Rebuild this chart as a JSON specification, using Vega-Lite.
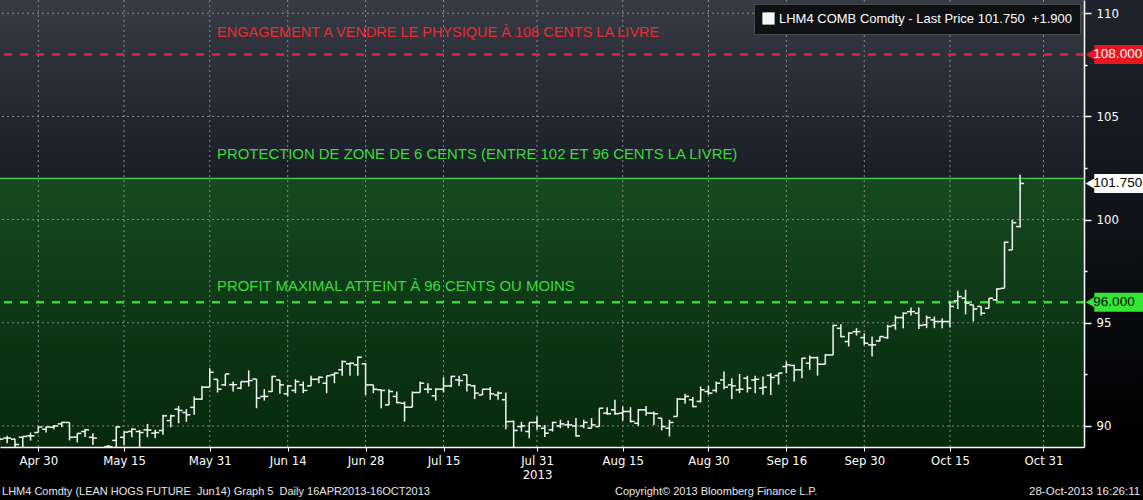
{
  "$schema": "https://vega.github.io/schema/vega-lite/v6.json",
  "width": 1084,
  "height": 447,
  "autosize": {"type": "none"},
  "padding": {"left": 0, "top": 0, "right": 59, "bottom": 53},
  "background": "#000000",
  "view": {"stroke": null, "fill": "#000000"},
  "config": {"font": "Liberation Sans"},
  "datasets": {
    "bars": [
      {"n": -5, "date": "2013-04-23", "o": 89.3, "h": 89.5, "l": 89.1, "c": 89.36},
      {"n": -4, "date": "2013-04-24", "o": 89.41, "h": 89.52, "l": 89.16, "c": 89.41},
      {"n": -3, "date": "2013-04-25", "o": 89.36, "h": 89.38, "l": 88.92, "c": 89.1},
      {"n": -2, "date": "2013-04-26", "o": 89.45, "h": 89.49, "l": 88.92, "c": 89.49},
      {"n": -1, "date": "2013-04-29", "o": 89.52, "h": 89.68, "l": 89.29, "c": 89.52},
      {"n": 0, "date": "2013-04-30", "o": 89.68, "h": 89.97, "l": 89.68, "c": 89.95},
      {"n": 1, "date": "2013-05-01", "o": 89.84, "h": 89.97, "l": 89.68, "c": 89.95},
      {"n": 2, "date": "2013-05-02", "o": 89.94, "h": 90.05, "l": 89.84, "c": 90.0},
      {"n": 3, "date": "2013-05-03", "o": 90.1, "h": 90.2, "l": 89.94, "c": 90.17},
      {"n": 4, "date": "2013-05-06", "o": 90.17, "h": 90.17, "l": 89.3, "c": 89.45},
      {"n": 5, "date": "2013-05-07", "o": 89.46, "h": 89.65, "l": 89.2, "c": 89.64},
      {"n": 6, "date": "2013-05-08", "o": 89.73, "h": 89.86, "l": 89.46, "c": 89.81},
      {"n": 7, "date": "2013-05-09", "o": 89.45, "h": 89.65, "l": 89.08, "c": 89.41},
      {"n": 8, "date": "2013-05-10", "o": 88.9, "h": 88.95, "l": 88.6, "c": 88.8},
      {"n": 9, "date": "2013-05-13", "o": 89.0, "h": 89.08, "l": 88.9, "c": 89.0},
      {"n": 10, "date": "2013-05-14", "o": 89.3, "h": 90.0, "l": 88.95, "c": 89.95},
      {"n": 11, "date": "2013-05-15", "o": 89.45, "h": 89.73, "l": 89.08, "c": 89.7},
      {"n": 12, "date": "2013-05-16", "o": 89.73, "h": 89.89, "l": 89.45, "c": 89.84},
      {"n": 13, "date": "2013-05-17", "o": 89.73, "h": 89.81, "l": 88.9, "c": 89.68},
      {"n": 14, "date": "2013-05-20", "o": 89.81, "h": 90.1, "l": 89.45, "c": 89.8},
      {"n": 15, "date": "2013-05-21", "o": 89.65, "h": 89.81, "l": 89.41, "c": 89.68},
      {"n": 16, "date": "2013-05-22", "o": 89.78, "h": 90.54, "l": 89.57, "c": 90.49},
      {"n": 17, "date": "2013-05-23", "o": 90.26, "h": 90.54, "l": 89.94, "c": 90.49},
      {"n": 18, "date": "2013-05-24", "o": 90.81, "h": 90.97, "l": 90.13, "c": 90.75},
      {"n": 19, "date": "2013-05-28", "o": 90.65, "h": 90.81, "l": 90.2, "c": 90.54},
      {"n": 20, "date": "2013-05-29", "o": 90.9, "h": 91.43, "l": 90.54, "c": 91.3},
      {"n": 21, "date": "2013-05-30", "o": 91.3, "h": 91.94, "l": 91.27, "c": 91.88},
      {"n": 22, "date": "2013-05-31", "o": 91.88, "h": 92.8, "l": 91.88, "c": 92.6},
      {"n": 23, "date": "2013-06-03", "o": 92.26, "h": 92.26, "l": 91.62, "c": 91.78},
      {"n": 24, "date": "2013-06-04", "o": 91.99, "h": 92.52, "l": 91.94, "c": 92.52},
      {"n": 25, "date": "2013-06-05", "o": 92.0, "h": 92.15, "l": 91.67, "c": 92.0},
      {"n": 26, "date": "2013-06-06", "o": 91.83, "h": 92.15, "l": 91.78, "c": 92.15},
      {"n": 27, "date": "2013-06-07", "o": 92.15, "h": 92.69, "l": 91.91, "c": 92.2},
      {"n": 28, "date": "2013-06-10", "o": 92.27, "h": 92.27, "l": 90.86, "c": 91.35},
      {"n": 29, "date": "2013-06-11", "o": 91.43, "h": 91.78, "l": 91.23, "c": 91.43},
      {"n": 30, "date": "2013-06-12", "o": 91.67, "h": 92.43, "l": 91.65, "c": 92.4},
      {"n": 31, "date": "2013-06-13", "o": 92.23, "h": 92.23, "l": 91.56, "c": 91.99},
      {"n": 32, "date": "2013-06-14", "o": 91.56, "h": 91.99, "l": 91.43, "c": 91.94},
      {"n": 33, "date": "2013-06-17", "o": 91.72, "h": 92.26, "l": 91.59, "c": 92.15},
      {"n": 34, "date": "2013-06-18", "o": 91.99, "h": 92.15, "l": 91.59, "c": 91.72},
      {"n": 35, "date": "2013-06-19", "o": 91.94, "h": 92.43, "l": 91.94, "c": 92.26},
      {"n": 36, "date": "2013-06-20", "o": 92.26, "h": 92.4, "l": 92.07, "c": 92.36},
      {"n": 37, "date": "2013-06-21", "o": 92.07, "h": 92.43, "l": 91.59, "c": 92.43},
      {"n": 38, "date": "2013-06-24", "o": 92.48, "h": 92.59, "l": 92.07, "c": 92.56},
      {"n": 39, "date": "2013-06-25", "o": 92.72, "h": 93.17, "l": 92.43, "c": 93.12},
      {"n": 40, "date": "2013-06-26", "o": 93.01, "h": 93.07, "l": 92.43, "c": 93.04},
      {"n": 41, "date": "2013-06-27", "o": 92.96, "h": 93.36, "l": 92.43, "c": 93.33},
      {"n": 42, "date": "2013-06-28", "o": 93.01, "h": 93.05, "l": 91.5, "c": 91.99},
      {"n": 43, "date": "2013-07-01", "o": 91.99, "h": 91.99, "l": 91.59, "c": 91.78},
      {"n": 44, "date": "2013-07-02", "o": 91.75, "h": 91.75, "l": 90.86, "c": 91.72},
      {"n": 45, "date": "2013-07-03", "o": 91.02, "h": 91.78, "l": 91.02, "c": 91.67},
      {"n": 46, "date": "2013-07-05", "o": 91.43, "h": 91.67, "l": 91.1, "c": 91.13},
      {"n": 47, "date": "2013-07-08", "o": 91.1, "h": 91.18, "l": 90.21, "c": 90.91},
      {"n": 48, "date": "2013-07-09", "o": 90.91, "h": 91.67, "l": 90.91, "c": 91.62},
      {"n": 49, "date": "2013-07-10", "o": 91.62, "h": 92.15, "l": 91.62, "c": 92.07},
      {"n": 50, "date": "2013-07-11", "o": 91.78, "h": 92.07, "l": 91.59, "c": 91.78},
      {"n": 51, "date": "2013-07-12", "o": 91.46, "h": 91.83, "l": 91.23, "c": 91.78},
      {"n": 52, "date": "2013-07-15", "o": 91.78, "h": 92.36, "l": 91.62, "c": 91.94},
      {"n": 53, "date": "2013-07-16", "o": 91.94, "h": 92.43, "l": 91.88, "c": 92.4},
      {"n": 54, "date": "2013-07-17", "o": 92.23, "h": 92.43, "l": 91.94, "c": 92.2},
      {"n": 55, "date": "2013-07-18", "o": 92.48, "h": 92.48, "l": 91.67, "c": 91.99},
      {"n": 56, "date": "2013-07-19", "o": 91.94, "h": 91.99, "l": 91.3, "c": 91.59},
      {"n": 57, "date": "2013-07-22", "o": 91.5, "h": 91.78, "l": 91.5, "c": 91.78},
      {"n": 58, "date": "2013-07-23", "o": 91.78, "h": 91.88, "l": 91.27, "c": 91.56},
      {"n": 59, "date": "2013-07-24", "o": 91.5, "h": 91.67, "l": 91.27, "c": 91.59},
      {"n": 60, "date": "2013-07-25", "o": 91.27, "h": 91.62, "l": 89.84, "c": 90.21},
      {"n": 61, "date": "2013-07-26", "o": 90.21, "h": 90.26, "l": 88.9, "c": 89.78},
      {"n": 62, "date": "2013-07-29", "o": 89.97, "h": 90.2, "l": 89.73, "c": 90.0},
      {"n": 63, "date": "2013-07-30", "o": 89.73, "h": 90.17, "l": 89.41, "c": 90.17},
      {"n": 64, "date": "2013-07-31", "o": 90.17, "h": 90.46, "l": 89.81, "c": 90.0},
      {"n": 65, "date": "2013-08-01", "o": 89.89, "h": 90.05, "l": 89.46, "c": 89.65},
      {"n": 66, "date": "2013-08-02", "o": 89.81, "h": 90.2, "l": 89.73, "c": 90.17},
      {"n": 67, "date": "2013-08-05", "o": 90.0, "h": 90.3, "l": 89.89, "c": 90.1},
      {"n": 68, "date": "2013-08-06", "o": 90.05, "h": 90.26, "l": 89.89, "c": 90.05},
      {"n": 69, "date": "2013-08-07", "o": 90.0, "h": 90.38, "l": 89.49, "c": 89.52},
      {"n": 70, "date": "2013-08-08", "o": 90.0, "h": 90.3, "l": 89.89, "c": 90.17},
      {"n": 71, "date": "2013-08-09", "o": 89.89, "h": 90.38, "l": 89.89, "c": 90.05},
      {"n": 72, "date": "2013-08-12", "o": 89.97, "h": 90.86, "l": 89.97, "c": 90.86},
      {"n": 73, "date": "2013-08-13", "o": 90.62, "h": 90.91, "l": 90.54, "c": 90.59},
      {"n": 74, "date": "2013-08-14", "o": 90.78, "h": 91.27, "l": 90.54, "c": 90.59},
      {"n": 75, "date": "2013-08-15", "o": 90.62, "h": 90.94, "l": 90.26, "c": 90.7},
      {"n": 76, "date": "2013-08-16", "o": 90.7, "h": 90.91, "l": 90.17, "c": 90.22},
      {"n": 77, "date": "2013-08-19", "o": 90.13, "h": 90.81, "l": 90.0, "c": 90.78},
      {"n": 78, "date": "2013-08-20", "o": 90.78, "h": 90.97, "l": 90.49, "c": 90.62},
      {"n": 79, "date": "2013-08-21", "o": 90.62, "h": 90.7, "l": 90.05, "c": 90.59},
      {"n": 80, "date": "2013-08-22", "o": 90.38, "h": 90.38, "l": 89.78, "c": 89.97},
      {"n": 81, "date": "2013-08-23", "o": 89.89, "h": 90.3, "l": 89.49, "c": 90.17},
      {"n": 82, "date": "2013-08-26", "o": 90.46, "h": 91.35, "l": 90.46, "c": 91.3},
      {"n": 83, "date": "2013-08-27", "o": 91.3, "h": 91.56, "l": 91.07, "c": 91.43},
      {"n": 84, "date": "2013-08-28", "o": 91.27, "h": 91.4, "l": 90.91, "c": 90.94},
      {"n": 85, "date": "2013-08-29", "o": 91.19, "h": 91.91, "l": 91.14, "c": 91.75},
      {"n": 86, "date": "2013-08-30", "o": 91.67, "h": 91.94, "l": 91.51, "c": 91.59},
      {"n": 87, "date": "2013-09-03", "o": 91.72, "h": 92.15, "l": 91.62, "c": 92.07},
      {"n": 88, "date": "2013-09-04", "o": 92.23, "h": 92.64, "l": 91.78, "c": 91.88},
      {"n": 89, "date": "2013-09-05", "o": 91.99, "h": 92.31, "l": 91.3, "c": 91.94},
      {"n": 90, "date": "2013-09-06", "o": 91.75, "h": 92.52, "l": 91.59, "c": 91.78},
      {"n": 91, "date": "2013-09-09", "o": 92.31, "h": 92.43, "l": 91.62, "c": 91.83},
      {"n": 92, "date": "2013-09-10", "o": 92.23, "h": 92.43, "l": 91.59, "c": 92.26},
      {"n": 93, "date": "2013-09-11", "o": 91.83, "h": 92.4, "l": 91.51, "c": 91.88},
      {"n": 94, "date": "2013-09-12", "o": 92.45, "h": 92.55, "l": 91.5, "c": 92.35},
      {"n": 95, "date": "2013-09-13", "o": 92.44, "h": 92.56, "l": 92.0, "c": 92.56},
      {"n": 96, "date": "2013-09-16", "o": 92.88, "h": 93.12, "l": 92.56, "c": 92.96},
      {"n": 97, "date": "2013-09-17", "o": 92.93, "h": 92.96, "l": 92.15, "c": 92.72},
      {"n": 98, "date": "2013-09-18", "o": 92.72, "h": 93.31, "l": 92.31, "c": 93.28},
      {"n": 99, "date": "2013-09-19", "o": 93.04, "h": 93.41, "l": 92.72, "c": 93.31},
      {"n": 100, "date": "2013-09-20", "o": 93.31, "h": 93.36, "l": 92.44, "c": 92.99},
      {"n": 101, "date": "2013-09-23", "o": 92.99, "h": 93.48, "l": 92.99, "c": 93.44},
      {"n": 102, "date": "2013-09-24", "o": 93.44, "h": 94.9, "l": 93.44, "c": 94.87},
      {"n": 103, "date": "2013-09-25", "o": 94.73, "h": 94.93, "l": 94.3, "c": 94.33},
      {"n": 104, "date": "2013-09-26", "o": 94.09, "h": 94.54, "l": 93.85, "c": 94.5},
      {"n": 105, "date": "2013-09-27", "o": 94.57, "h": 94.74, "l": 94.38, "c": 94.57},
      {"n": 106, "date": "2013-09-30", "o": 94.28, "h": 94.49, "l": 93.93, "c": 94.01},
      {"n": 107, "date": "2013-10-01", "o": 93.93, "h": 94.33, "l": 93.36, "c": 93.93},
      {"n": 108, "date": "2013-10-02", "o": 94.12, "h": 94.33, "l": 94.09, "c": 94.33},
      {"n": 109, "date": "2013-10-03", "o": 94.28, "h": 94.9, "l": 94.22, "c": 94.82},
      {"n": 110, "date": "2013-10-04", "o": 94.87, "h": 95.35, "l": 94.66, "c": 95.25},
      {"n": 111, "date": "2013-10-07", "o": 95.25, "h": 95.51, "l": 94.74, "c": 95.46},
      {"n": 112, "date": "2013-10-08", "o": 95.54, "h": 95.74, "l": 95.35, "c": 95.54},
      {"n": 113, "date": "2013-10-09", "o": 95.46, "h": 95.74, "l": 94.7, "c": 94.87},
      {"n": 114, "date": "2013-10-10", "o": 94.9, "h": 95.35, "l": 94.74, "c": 95.25},
      {"n": 115, "date": "2013-10-11", "o": 95.14, "h": 95.3, "l": 94.74, "c": 95.06},
      {"n": 116, "date": "2013-10-14", "o": 95.06, "h": 95.22, "l": 94.74, "c": 95.06},
      {"n": 117, "date": "2013-10-15", "o": 95.06, "h": 96.03, "l": 94.77, "c": 95.79},
      {"n": 118, "date": "2013-10-16", "o": 96.06, "h": 96.55, "l": 95.67, "c": 96.27},
      {"n": 119, "date": "2013-10-17", "o": 96.19, "h": 96.6, "l": 95.41, "c": 95.95},
      {"n": 120, "date": "2013-10-18", "o": 95.87, "h": 95.87, "l": 95.06, "c": 95.67},
      {"n": 121, "date": "2013-10-21", "o": 95.79, "h": 95.79, "l": 95.35, "c": 95.46},
      {"n": 122, "date": "2013-10-22", "o": 95.7, "h": 96.19, "l": 95.7, "c": 96.19},
      {"n": 123, "date": "2013-10-23", "o": 96.11, "h": 96.67, "l": 96.06, "c": 96.64},
      {"n": 124, "date": "2013-10-24", "o": 96.67, "h": 98.94, "l": 96.67, "c": 98.9},
      {"n": 125, "date": "2013-10-25", "o": 98.53, "h": 99.98, "l": 98.53, "c": 99.85},
      {"n": 126, "date": "2013-10-28", "o": 99.66, "h": 102.17, "l": 99.62, "c": 101.75}
    ],
    "xticks": [
      {"n": 0}, {"n": 11}, {"n": 22}, {"n": 32}, {"n": 42}, {"n": 52}, {"n": 64},
      {"n": 75}, {"n": 86}, {"n": 96}, {"n": 106}, {"n": 117}, {"n": 129}
    ],
    "yticks": [{"price": 90}, {"price": 95}, {"price": 100}, {"price": 105}, {"price": 110}],
    "tags": [
      {"price": 108, "tag": "108.000"},
      {"price": 101.75, "tag": "101.750"},
      {"price": 96, "tag": "96.000"}
    ]
  },
  "layer": [
    {
      "data": {"values": [{"lo": 102, "hi": 110.64}]},
      "mark": {"type": "rect", "clip": true, "fill": {"gradient": "linear", "x1": 0, "y1": 0, "x2": 0, "y2": 1, "stops": [{"offset": 0, "color": "#363b46"}, {"offset": 1, "color": "#191d26"}]}},
      "encoding": {
        "y": {"field": "lo", "type": "quantitative", "scale": {"domain": [88.98, 110.64], "nice": false, "zero": false}},
        "y2": {"field": "hi"}
      }
    },
    {
      "data": {"values": [{"lo": 88.98, "hi": 102}]},
      "mark": {"type": "rect", "clip": true, "fill": {"gradient": "linear", "x1": 0, "y1": 0, "x2": 0, "y2": 1, "stops": [{"offset": 0, "color": "#174a21"}, {"offset": 0.5, "color": "#0d3816"}, {"offset": 1, "color": "#07290c"}]}},
      "encoding": {
        "y": {"field": "lo", "type": "quantitative", "scale": {"domain": [88.98, 110.64], "nice": false, "zero": false}},
        "y2": {"field": "hi"}
      }
    },
    {
      "data": {"values": [{"n": 134.22, "n2": 150}]},
      "mark": {"type": "rect", "clip": false, "fill": {"gradient": "linear", "x1": 0, "y1": 0, "x2": 0, "y2": 1, "stops": [{"offset": 0, "color": "#20242e"}, {"offset": 1, "color": "#000000"}]}},
      "encoding": {
        "x": {"field": "n", "type": "quantitative", "scale": {"domain": [-4.92, 134.2], "nice": false, "zero": false}},
        "x2": {"field": "n2"}
      }
    },
    {
      "data": {"name": "xticks"},
      "mark": {"type": "rule", "color": "#9a9a9a", "strokeWidth": 1, "strokeDash": [2, 3], "opacity": 0.85},
      "encoding": {
        "x": {"field": "n", "type": "quantitative", "scale": {"domain": [-4.92, 134.2], "nice": false, "zero": false}}
      }
    },
    {
      "data": {"name": "yticks"},
      "mark": {"type": "rule", "color": "#9a9a9a", "strokeWidth": 1, "strokeDash": [2, 3], "opacity": 0.85},
      "encoding": {
        "y": {"field": "price", "type": "quantitative", "scale": {"domain": [88.98, 110.64], "nice": false, "zero": false}}
      }
    },
    {
      "data": {"values": [{"price": 102}]},
      "mark": {"type": "rule", "color": "#3fd23f", "strokeWidth": 1.2},
      "encoding": {"y": {"field": "price", "type": "quantitative"}}
    },
    {
      "data": {"values": [{"price": 108}]},
      "mark": {"type": "rule", "color": "#e8232a", "strokeWidth": 2.5, "strokeDash": [8, 8]},
      "encoding": {"y": {"field": "price", "type": "quantitative"}}
    },
    {
      "data": {"values": [{"price": 96}]},
      "mark": {"type": "rule", "color": "#3ad83a", "strokeWidth": 2.5, "strokeDash": [8, 8]},
      "encoding": {"y": {"field": "price", "type": "quantitative"}}
    },
    {
      "data": {"values": [
        {"n": 22.94, "price": 109.04, "note": "ENGAGEMENT A VENDRE LE PHYSIQUE À 108 CENTS LA LIVRE"}
      ]},
      "mark": {"type": "text", "align": "left", "baseline": "middle", "fontSize": 14.5, "font": "Liberation Sans", "fill": "#ec2a2e"},
      "encoding": {
        "x": {"field": "n", "type": "quantitative"},
        "y": {"field": "price", "type": "quantitative"},
        "text": {"field": "note"}
      }
    },
    {
      "data": {"values": [
        {"n": 22.94, "price": 103.13, "note": "PROTECTION DE ZONE DE 6 CENTS (ENTRE 102 ET 96 CENTS LA LIVRE)"},
        {"n": 22.94, "price": 96.73, "note": "PROFIT MAXIMAL ATTEINT À 96 CENTS OU MOINS"}
      ]},
      "mark": {"type": "text", "align": "left", "baseline": "middle", "fontSize": 14.9, "font": "Liberation Sans", "fill": "#3cdc3c"},
      "encoding": {
        "x": {"field": "n", "type": "quantitative"},
        "y": {"field": "price", "type": "quantitative"},
        "text": {"field": "note"}
      }
    },
    {
      "data": {"name": "bars"},
      "mark": {"type": "tick", "orient": "horizontal", "size": 4, "thickness": 1.5, "xOffset": -2, "opacity": 1, "clip": true},
      "encoding": {
        "x": {"field": "n", "type": "quantitative", "scale": {"domain": [-4.92, 134.2], "nice": false, "zero": false},
          "axis": {"title": null, "values": [0, 11, 22, 32, 42, 52, 64, 75, 86, 96, 106, 117, 129],
            "labelExpr": "[['Apr 30'],['May 15'],['May 31'],['Jun 14'],['Jun 28'],['Jul 15'],['Jul 31','2013'],['Aug 15'],['Aug 30'],['Sep 16'],['Sep 30'],['Oct 15'],['Oct 31']][indexof([0,11,22,32,42,52,64,75,86,96,106,117,129], datum.value)]",
            "grid": false, "domainColor": "#ffffff", "domainWidth": 1.5, "tickColor": "#ffffff", "tickSize": 4,
            "labelColor": "#ffffff", "labelFontSize": 13, "labelFont": "DejaVu Sans Condensed", "labelPadding": 3, "labelLineHeight": 14,
            "labelOverlap": false, "labelFlush": false, "zindex": 1}},
        "y": {"field": "o", "type": "quantitative", "scale": {"domain": [88.98, 110.64], "nice": false, "zero": false},
          "axis": {"orient": "right", "title": null, "values": [90, 92.5, 95, 97.5, 100, 102.5, 105, 107.5, 110],
            "labelExpr": "datum.value % 5 == 0 ? format(datum.value, 'd') : ''",
            "tickSize": {"condition": {"test": "datum.value % 5 == 0", "value": 7}, "value": 3},
            "grid": false, "domainColor": "#ffffff", "domainWidth": 1.5, "tickColor": "#ffffff", "tickWidth": 1.5,
            "labelColor": "#ffffff", "labelFontSize": 13, "labelFont": "DejaVu Sans Condensed", "labelPadding": 5,
            "labelOverlap": false, "zindex": 1}},
        "color": {"datum": "LHM4 COMB Comdty - Last Price 101.750\u00a0 +1.900", "type": "nominal",
          "scale": {"range": ["#f4f8f4"]},
          "legend": {"title": null, "orient": "top-right", "offset": 4, "padding": 8, "fillColor": "#0f1115", "strokeColor": "#4a4a4a",
            "labelColor": "#ffffff", "labelFontSize": 13, "labelFont": "Liberation Sans", "labelLimit": 500,
            "symbolType": "square", "symbolSize": 150, "symbolFillColor": "#ffffff", "symbolStrokeColor": "#ffffff", "symbolStrokeWidth": 0, "symbolOpacity": 1}}
      }
    },
    {
      "data": {"name": "bars"},
      "mark": {"type": "tick", "orient": "horizontal", "size": 4, "thickness": 1.5, "xOffset": 2, "opacity": 1, "clip": true},
      "encoding": {
        "x": {"field": "n", "type": "quantitative"},
        "y": {"field": "c", "type": "quantitative"},
        "color": {"datum": "LHM4 COMB Comdty - Last Price 101.750\u00a0 +1.900", "type": "nominal"}
      }
    },
    {
      "data": {"name": "bars"},
      "mark": {"type": "rule", "strokeWidth": 1.5, "opacity": 1, "clip": true},
      "encoding": {
        "x": {"field": "n", "type": "quantitative"},
        "y": {"field": "l", "type": "quantitative"},
        "y2": {"field": "h"},
        "color": {"datum": "LHM4 COMB Comdty - Last Price 101.750\u00a0 +1.900", "type": "nominal"}
      }
    },
    {
      "data": {"name": "tags"},
      "mark": {"type": "point", "shape": "triangle-left", "filled": true, "size": 120, "opacity": 1, "clip": false},
      "encoding": {
        "x": {"datum": 135.0, "type": "quantitative"},
        "y": {"field": "price", "type": "quantitative"},
        "fill": {"condition": [{"test": "datum.price == 108", "value": "#e8171f"}, {"test": "datum.price == 96", "value": "#33e633"}], "value": "#ffffff"}
      }
    },
    {
      "data": {"name": "tags"},
      "mark": {"type": "tick", "orient": "horizontal", "size": 62, "thickness": 19, "opacity": 1, "clip": false},
      "encoding": {
        "x": {"datum": 139.5, "type": "quantitative"},
        "y": {"field": "price", "type": "quantitative"},
        "fill": {"condition": [{"test": "datum.price == 108", "value": "#e8171f"}, {"test": "datum.price == 96", "value": "#33e633"}], "value": "#ffffff"}
      }
    },
    {
      "data": {"name": "tags"},
      "mark": {"type": "text", "align": "left", "baseline": "middle", "fontSize": 13.5, "font": "Liberation Sans", "clip": false},
      "encoding": {
        "x": {"datum": 135.4, "type": "quantitative"},
        "y": {"field": "price", "type": "quantitative"},
        "text": {"field": "tag"},
        "fill": {"condition": {"test": "datum.price == 108", "value": "#ffffff"}, "value": "#000000"}
      }
    },
    {
      "data": {"values": [
        {"n": -4.66, "price": 86.8, "note": "LHM4 Comdty (LEAN HOGS FUTURE\u00a0 Jun14) Graph 5\u00a0 Daily 16APR2013-16OCT2013"},
        {"n": 74.0, "price": 86.8, "note": "Copyright© 2013 Bloomberg Finance L.P."}
      ]},
      "mark": {"type": "text", "align": "left", "baseline": "middle", "fontSize": 11, "font": "Liberation Sans", "fill": "#e6e6e6", "clip": false},
      "encoding": {
        "x": {"field": "n", "type": "quantitative"},
        "y": {"field": "price", "type": "quantitative"},
        "text": {"field": "note"}
      }
    },
    {
      "data": {"values": [{"n": 141.4, "price": 86.8, "note": "28-Oct-2013 16:26:11"}]},
      "mark": {"type": "text", "align": "right", "baseline": "middle", "fontSize": 11.5, "font": "Liberation Sans", "fill": "#e6e6e6", "clip": false},
      "encoding": {
        "x": {"field": "n", "type": "quantitative"},
        "y": {"field": "price", "type": "quantitative"},
        "text": {"field": "note"}
      }
    }
  ]
}
